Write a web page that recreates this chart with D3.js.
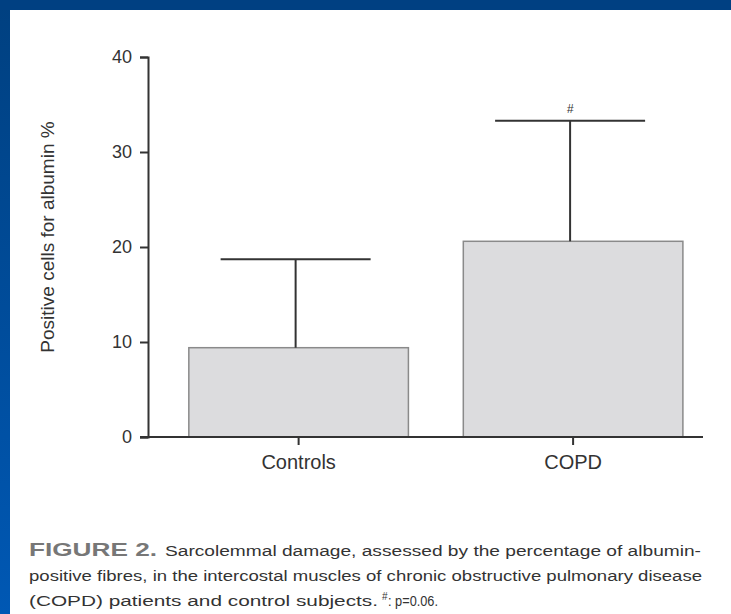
<!DOCTYPE html>
<html>
<head>
<meta charset="utf-8">
<script src="https://cdn.jsdelivr.net/npm/d3@7"></script>
<style>
  html, body { margin: 0; padding: 0; background: #fff; }
  svg { display: block; }
</style>
</head>
<body>
<svg id="chart" width="731" height="614"></svg>
<script>
// Albumin-positive fibres (%), mean with upper SD whisker
const categories = ["Controls", "COPD"];
const means = [9.4, 20.6];
const errorTops = [18.7, 33.3];
const significance = ["", "#"];
const yTicks = [0, 10, 20, 30, 40];

const svg = d3.select("#chart");
const W = 731, H = 614;

// page frame: dark blue band along the top and left edges
const defs = svg.append("defs");
const grad = defs.append("linearGradient")
  .attr("id", "sideBlue").attr("x1", 0).attr("y1", 0).attr("x2", 0).attr("y2", 1);
grad.append("stop").attr("offset", "0%").attr("stop-color", "#004080");
grad.append("stop").attr("offset", "100%").attr("stop-color", "#0058b4");

svg.append("rect").attr("x", 0).attr("y", 0).attr("width", W).attr("height", H).attr("fill", "#fff");
svg.append("rect").attr("x", 0).attr("y", 0).attr("width", 10).attr("height", H).attr("fill", "url(#sideBlue)");
svg.append("rect").attr("x", 0).attr("y", 0).attr("width", W).attr("height", 10).attr("fill", "#004082");

const font = "Liberation Sans, Arial, Helvetica, sans-serif";
const ink = "#333";

const y = d3.scaleLinear().domain([0, 40]).range([437, 57]);
const x = d3.scaleBand().domain(categories)
  .range([148, 703])
  .paddingInner(0.2)
  .paddingOuter(0.111)
  .align(0.67);

const g = svg.append("g");

// bars
g.selectAll("rect.bar").data(categories).join("rect")
  .attr("class", "bar")
  .attr("x", d => x(d))
  .attr("width", x.bandwidth())
  .attr("y", (d, i) => y(means[i]))
  .attr("height", (d, i) => y(0) - y(means[i]))
  .attr("fill", "#dcdcde")
  .attr("stroke", "#8a8a8a")
  .attr("stroke-width", 1.5);

// upper error whiskers
const capHalf = 75;
const cx = d => x(d) + x.bandwidth() / 2 - 3;
g.selectAll("line.whisker").data(categories).join("line")
  .attr("class", "whisker")
  .attr("x1", cx).attr("x2", cx)
  .attr("y1", (d, i) => y(means[i]))
  .attr("y2", (d, i) => y(errorTops[i]))
  .attr("stroke", ink).attr("stroke-width", 2);
g.selectAll("line.cap").data(categories).join("line")
  .attr("class", "cap")
  .attr("x1", d => cx(d) - capHalf).attr("x2", d => cx(d) + capHalf)
  .attr("y1", (d, i) => y(errorTops[i]))
  .attr("y2", (d, i) => y(errorTops[i]))
  .attr("stroke", ink).attr("stroke-width", 2);
g.selectAll("text.sig").data(categories).join("text")
  .attr("class", "sig")
  .attr("x", cx)
  .attr("y", (d, i) => y(errorTops[i]) - 8)
  .attr("text-anchor", "middle")
  .attr("font-family", font).attr("font-size", 12).attr("font-style", "italic")
  .attr("fill", ink)
  .text((d, i) => significance[i]);

// y axis
const yAxis = g.append("g").attr("transform", "translate(148,0)")
  .call(d3.axisLeft(y).tickValues(yTicks).tickSize(8).tickPadding(8));
yAxis.select(".domain").attr("stroke", ink).attr("stroke-width", 2);
yAxis.selectAll(".tick line").attr("stroke", ink).attr("stroke-width", 2);
yAxis.selectAll(".tick text").attr("font-family", font).attr("font-size", 18).attr("fill", ink);

// x axis baseline from the zero tick to the right end
const xAxis = g.append("g").attr("transform", "translate(0,437)")
  .call(d3.axisBottom(x).tickSize(8).tickPadding(10));
xAxis.select(".domain").remove();
xAxis.selectAll(".tick line").attr("stroke", ink).attr("stroke-width", 2);
xAxis.selectAll(".tick text").attr("font-family", font).attr("font-size", 20).attr("fill", ink);
g.append("line")
  .attr("x1", 140).attr("x2", 703).attr("y1", 437).attr("y2", 437)
  .attr("stroke", ink).attr("stroke-width", 2);

// y axis title
g.append("text")
  .attr("transform", "translate(54,237) rotate(-90)")
  .attr("text-anchor", "middle")
  .attr("font-family", font).attr("font-size", 19).attr("fill", ink)
  .text("Positive cells for albumin %");

// caption
const cap = svg.append("g").attr("font-family", font).attr("fill", "#333");
cap.append("text").attr("x", 29).attr("y", 556)
  .attr("font-size", 19).attr("font-weight", "bold").attr("fill", "#777")
  .attr("textLength", 128).attr("lengthAdjust", "spacingAndGlyphs")
  .text("FIGURE 2.");
cap.append("text").attr("x", 165).attr("y", 556)
  .attr("font-size", 14)
  .attr("textLength", 536).attr("lengthAdjust", "spacingAndGlyphs")
  .text("Sarcolemmal damage, assessed by the percentage of albumin-");
cap.append("text").attr("x", 29).attr("y", 581)
  .attr("font-size", 14)
  .attr("textLength", 673).attr("lengthAdjust", "spacingAndGlyphs")
  .text("positive fibres, in the intercostal muscles of chronic obstructive pulmonary disease");
cap.append("text").attr("x", 29).attr("y", 606)
  .attr("font-size", 14)
  .attr("textLength", 349).attr("lengthAdjust", "spacingAndGlyphs")
  .text("(COPD) patients and control subjects.");
cap.append("text").attr("x", 382).attr("y", 600)
  .attr("font-size", 10)
  .text("#");
cap.append("text").attr("x", 388).attr("y", 606)
  .attr("font-size", 14)
  .attr("textLength", 50).attr("lengthAdjust", "spacingAndGlyphs")
  .text(": p=0.06.");
</script>
</body>
</html>
